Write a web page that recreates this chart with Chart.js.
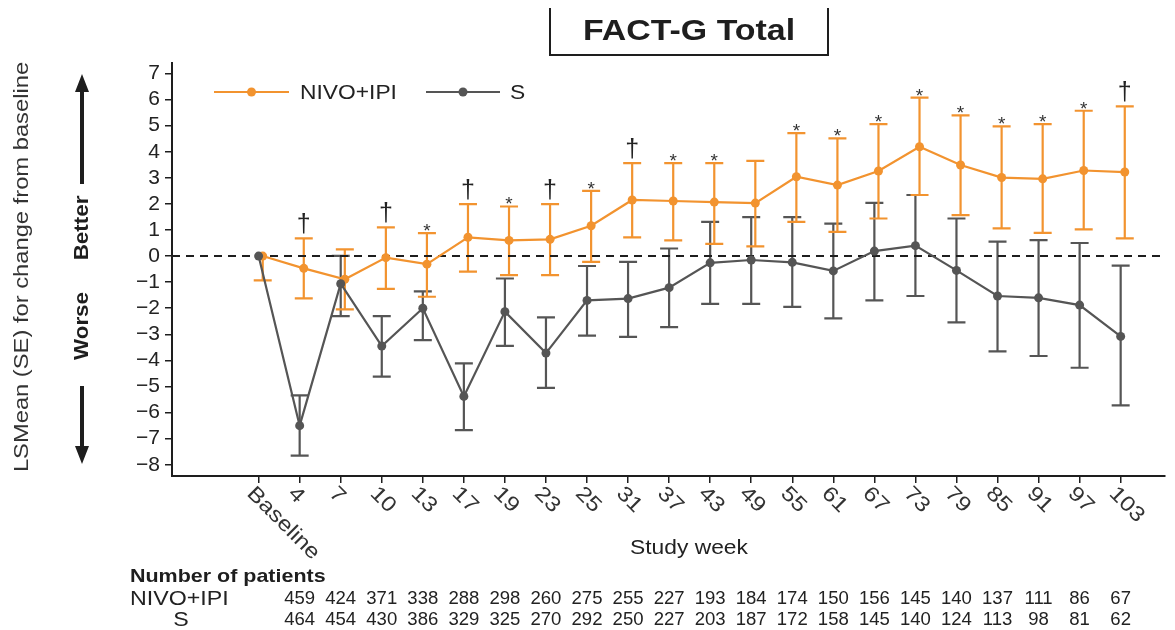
<!DOCTYPE html>
<html>
<head>
<meta charset="utf-8">
<script src="https://cdn.jsdelivr.net/npm/chart.js@4"></script>
<style>
  body { margin: 0; background: #fff; }
  #c { display: block; }
</style>
</head>
<body>
<canvas id="c" width="1175" height="630"></canvas>
<script>
// study weeks (x categories)
const weeks = ['Baseline', '4', '7', '10', '13', '17', '19', '23', '25', '31', '37', '43', '49', '55', '61', '67', '73', '79', '85', '91', '97', '103'];

// NIVO+IPI: LSMean and SE bar ends
const nivoMean = [0, -0.47, -0.89, -0.06, -0.31, 0.72, 0.6, 0.64, 1.16, 2.15, 2.11, 2.07, 2.03, 3.04, 2.72, 3.26, 4.19, 3.49, 3.01, 2.96, 3.28, 3.22];
const nivoLow = [-0.93, -1.62, -2.04, -1.26, -1.56, -0.6, -0.73, -0.73, -0.22, 0.72, 0.6, 0.47, 0.37, 1.31, 0.93, 1.44, 2.34, 1.57, 1.06, 0.89, 1.02, 0.68];
const nivoHigh = [null, 0.68, 0.26, 1.1, 0.88, 1.99, 1.9, 1.99, 2.5, 3.56, 3.56, 3.56, 3.65, 4.71, 4.51, 5.06, 6.07, 5.39, 4.97, 5.06, 5.57, 5.74];

// S (sunitinib)
const sMean = [0, -6.5, -1.06, -3.45, -2.0, -5.38, -2.13, -3.72, -1.7, -1.63, -1.21, -0.26, -0.15, -0.24, -0.57, 0.19, 0.4, -0.55, -1.53, -1.6, -1.88, -3.08];
const sLow = [null, -7.65, -2.3, -4.62, -3.22, -6.67, -3.44, -5.05, -3.05, -3.1, -2.72, -1.83, -1.83, -1.95, -2.39, -1.7, -1.53, -2.54, -3.65, -3.83, -4.28, -5.72];
const sHigh = [null, -5.34, 0.01, -2.3, -1.35, -4.11, -0.86, -2.35, -0.38, -0.22, 0.29, 1.31, 1.49, 1.49, 1.24, 2.04, 2.34, 1.44, 0.55, 0.61, 0.5, -0.37];

// significance marks above NIVO+IPI
const sigMarks = ['', '\u2020', '', '\u2020', '*', '\u2020', '*', '\u2020', '*', '\u2020', '*', '*', '', '*', '*', '*', '*', '*', '*', '*', '*', '\u2020'];

// number of patients (weeks 4..103)
const nivoN = [459, 424, 371, 338, 288, 298, 260, 275, 255, 227, 193, 184, 174, 150, 156, 145, 140, 137, 111, 86, 67];
const sN = [464, 454, 430, 386, 329, 325, 270, 292, 250, 227, 203, 187, 172, 158, 145, 140, 124, 113, 98, 81, 62];

const yTicks = [-8, -7, -6, -5, -4, -3, -2, -1, 0, 1, 2, 3, 4, 5, 6, 7];

const ORANGE = '#F2932F';
const GREY = '#555555';
const INK = '#1e1e1e';
const FONT = 'Arial, "Liberation Sans", Helvetica, sans-serif';
const NIVO_SHIFT = 0.1;

function txt(ctx, str, x, y, o) {
  ctx.save();
  ctx.translate(x, y);
  if (o.rot) ctx.rotate(o.rot);
  ctx.scale(o.sx || 1, 1);
  ctx.font = (o.bold ? 'bold ' : '') + o.size + 'px ' + FONT;
  ctx.fillStyle = o.color || INK;
  ctx.textAlign = o.align || 'left';
  ctx.textBaseline = o.base || 'middle';
  ctx.fillText(str, 0, 0);
  ctx.restore();
}

const errorBars = {
  id: 'errorBars',
  beforeDatasetsDraw(chart) {
    const { ctx, scales: { x, y } } = chart;
    const sets = [
      { mean: sMean, low: sLow, high: sHigh, color: GREY, shift: 0 },
      { mean: nivoMean, low: nivoLow, high: nivoHigh, color: ORANGE, shift: NIVO_SHIFT }
    ];
    ctx.save();
    ctx.lineWidth = 2.2;
    sets.forEach(s => {
      ctx.strokeStyle = s.color;
      s.mean.forEach((m, i) => {
        const px = x.getPixelForValue(i + s.shift);
        [s.low[i], s.high[i]].forEach(v => {
          if (v === null) return;
          const py = y.getPixelForValue(v);
          ctx.beginPath();
          ctx.moveTo(px, y.getPixelForValue(m));
          ctx.lineTo(px, py);
          ctx.moveTo(px - 9, py);
          ctx.lineTo(px + 9, py);
          ctx.stroke();
        });
      });
    });
    // zero reference line
    ctx.strokeStyle = INK;
    ctx.lineWidth = 2;
    ctx.setLineDash([8, 6]);
    const y0 = y.getPixelForValue(0);
    ctx.beginPath();
    ctx.moveTo(chart.chartArea.left, y0);
    ctx.lineTo(chart.chartArea.right, y0);
    ctx.stroke();
    ctx.restore();
  },
  afterDraw(chart) {
    const { ctx, scales: { x, y } } = chart;

    // significance marks
    sigMarks.forEach((m, i) => {
      if (!m) return;
      const px = x.getPixelForValue(i + NIVO_SHIFT);
      const py = y.getPixelForValue(nivoHigh[i]);
      if (m === '*') txt(ctx, m, px, py + 4, { size: 19, align: 'center', base: 'alphabetic', color: '#333' });
      else txt(ctx, m, px, py - 6, { size: 25, align: 'center', base: 'alphabetic', color: '#222' });
    });

    // rotated week labels
    weeks.forEach((w, i) => {
      const px = x.getPixelForValue(i);
      txt(ctx, w, px - 1, 483, { size: 21, rot: Math.PI / 4, sx: 1.16, base: 'top', color: '#333' });
    });

    // title box
    ctx.save();
    ctx.strokeStyle = INK;
    ctx.lineWidth = 2;
    ctx.beginPath();
    ctx.moveTo(550, 8);
    ctx.lineTo(550, 55);
    ctx.lineTo(828, 55);
    ctx.lineTo(828, 8);
    ctx.stroke();
    ctx.restore();
    txt(ctx, 'FACT-G Total', 689, 32, { size: 30, bold: true, align: 'center', sx: 1.13 });

    // legend
    const ly = 92;
    [[214, 289, ORANGE, 'NIVO+IPI', 300], [426, 500, GREY, 'S', 510]].forEach(([a, b, c, label, tx]) => {
      ctx.save();
      ctx.strokeStyle = c;
      ctx.fillStyle = c;
      ctx.lineWidth = 2.2;
      ctx.beginPath();
      ctx.moveTo(a, ly);
      ctx.lineTo(b, ly);
      ctx.stroke();
      ctx.beginPath();
      ctx.arc((a + b) / 2, ly, 4.5, 0, Math.PI * 2);
      ctx.fill();
      ctx.restore();
      txt(ctx, label, tx, ly + 1, { size: 20, sx: 1.14, color: '#222' });
    });

    // y axis title, better / worse
    txt(ctx, 'LSMean (SE) for change from baseline', 22, 267, { size: 21, rot: -Math.PI / 2, align: 'center', sx: 1.13, color: '#333' });
    txt(ctx, 'Better', 82, 228, { size: 20, bold: true, rot: -Math.PI / 2, align: 'center', sx: 1.12 });
    txt(ctx, 'Worse', 82, 326, { size: 20, bold: true, rot: -Math.PI / 2, align: 'center', sx: 1.12 });
    ctx.save();
    ctx.strokeStyle = INK;
    ctx.fillStyle = INK;
    ctx.lineWidth = 4;
    ctx.beginPath();
    ctx.moveTo(82, 184); ctx.lineTo(82, 90);
    ctx.moveTo(82, 386); ctx.lineTo(82, 448);
    ctx.stroke();
    ctx.beginPath();
    ctx.moveTo(82, 74); ctx.lineTo(75, 92); ctx.lineTo(89, 92); ctx.closePath();
    ctx.moveTo(82, 464); ctx.lineTo(75, 446); ctx.lineTo(89, 446); ctx.closePath();
    ctx.fill();
    ctx.restore();

    // x axis title
    txt(ctx, 'Study week', 689, 548, { size: 20, sx: 1.14, align: 'center', color: '#222' });

    // patient numbers table
    txt(ctx, 'Number of patients', 130, 577, { size: 19, bold: true, sx: 1.13 });
    txt(ctx, 'NIVO+IPI', 130, 599, { size: 20, sx: 1.16, color: '#222' });
    txt(ctx, 'S', 181, 620, { size: 20, sx: 1.16, align: 'center', color: '#222' });
    nivoN.forEach((n, i) => {
      const px = x.getPixelForValue(i + 1);
      txt(ctx, String(n), px, 599, { size: 18, sx: 1.03, align: 'center', color: '#222' });
      txt(ctx, String(sN[i]), px, 620, { size: 18, sx: 1.03, align: 'center', color: '#222' });
    });
  }
};

const ctx = document.getElementById('c').getContext('2d');

new Chart(ctx, {
  type: 'line',
  data: {
    datasets: [
      {
        label: 'S',
        data: sMean.map((v, i) => ({ x: i, y: v })),
        borderColor: GREY,
        backgroundColor: GREY,
        borderWidth: 2.2,
        pointRadius: 4.5,
        pointBorderWidth: 0,
        tension: 0
      },
      {
        label: 'NIVO+IPI',
        data: nivoMean.map((v, i) => ({ x: i + NIVO_SHIFT, y: v })),
        borderColor: ORANGE,
        backgroundColor: ORANGE,
        borderWidth: 2.2,
        pointRadius: 4.5,
        pointBorderWidth: 0,
        tension: 0
      }
    ]
  },
  options: {
    responsive: false,
    animation: false,
    events: [],
    layout: { padding: { left: 0, top: 63, right: 10, bottom: 0 } },
    plugins: {
      legend: { display: false },
      title: { display: false },
      tooltip: { enabled: false }
    },
    scales: {
      x: {
        type: 'linear',
        min: -2.11,
        max: 22.08,
        afterBuildTicks: (scale) => { scale.ticks = weeks.map((w, i) => ({ value: i })); },
        afterFit: (scale) => { scale.height = 154; },
        ticks: { display: false, autoSkip: false },
        grid: { drawOnChartArea: false, drawTicks: true, tickLength: 7, color: INK, lineWidth: 1.5 },
        border: { display: true, color: INK, width: 2 }
      },
      y: {
        type: 'linear',
        min: -8.43,
        max: 7.4,
        afterBuildTicks: (scale) => { scale.ticks = yTicks.map(v => ({ value: v })); },
        afterFit: (scale) => { scale.width = 172; },
        ticks: {
          autoSkip: false,
          padding: 5,
          color: '#222',
          font: { family: FONT, size: 21 },
          callback: (v) => (v < 0 ? '\u2212' + Math.abs(v) : String(v))
        },
        grid: { drawOnChartArea: false, drawTicks: true, tickLength: 7, color: INK, lineWidth: 1.5 },
        border: { display: true, color: INK, width: 2 }
      }
    }
  },
  plugins: [errorBars]
});
</script>
</body>
</html>
